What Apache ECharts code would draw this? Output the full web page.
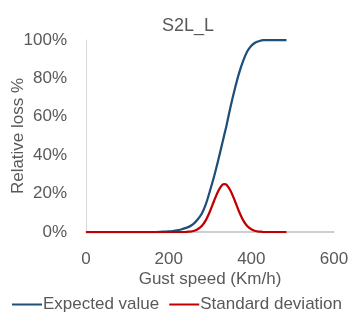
<!DOCTYPE html>
<html>
<head>
<meta charset="utf-8">
<script src="https://cdn.jsdelivr.net/npm/echarts@6/dist/echarts.min.js"></script>
<style>
html,body{margin:0;padding:0;background:#fff;}
#chart{width:354px;height:328px;}
</style>
</head>
<body>
<div id="chart"></div>
<script>
var titleText = 'S2L_L';
var xTicks = [0, 200, 400, 600];
var gustSpeed = [0,10,20,30,40,50,60,70,80,90,100,110,120,130,140,150,160,170,180,190,200,210,220,230,240,250,260,270,280,290,300,310,320,330,335,340,350,360,370,380,390,400,410,420,430,440,450,460,470,480,485];
var expectedValue = [0,0,0,0,0,0,0,0,0,0,0,0,0,0,0,0,0,0,0.001,0.002,0.003,0.005,0.008,0.013,0.02,0.028,0.042,0.065,0.095,0.145,0.215,0.29,0.375,0.465,0.51,0.555,0.655,0.745,0.825,0.89,0.94,0.97,0.987,0.995,0.999,1,1,1,1,1,1];
var standardDeviation = [0,0,0,0,0,0,0,0,0,0,0,0,0,0,0,0,0,0,0,0,0,0,0,0,0,0.002,0.005,0.014,0.031,0.062,0.108,0.163,0.214,0.246,0.25,0.246,0.214,0.163,0.108,0.062,0.031,0.014,0.005,0.002,0,0,0,0,0,0,0];
var seriesNames = ['Expected value', 'Standard deviation'];

function pairs(xs, ys){ return xs.map(function(x,i){ return [x, ys[i]]; }); }

var font = 'Liberation Sans';
var txt = '#595959';
var chart = echarts.init(document.getElementById('chart'));
chart.setOption({
  animation: false,
  title: { text: titleText, left: 183, top: 12, textAlign: 'center',
    textStyle: { fontFamily: font, fontSize: 18, fontWeight: 'normal', color: txt } },
  grid: { left: 86, right: 20, top: 40, bottom: 96, containLabel: false, outerBoundsMode: 'none' },
  legend: {
    data: seriesNames, bottom: 10, left: 'center', itemWidth: 30, itemHeight: 2, itemGap: 10,
    icon: 'rect',
    textStyle: { fontFamily: font, fontSize: 17, color: txt, padding: [0,0,0,-4] }
  },
  xAxis: {
    type: 'value', min: 0, max: 600, interval: 200,
    name: 'Gust speed (Km/h)', nameLocation: 'middle', nameGap: 39, nameMoveOverlap: false,
    nameTextStyle: { fontFamily: font, fontSize: 17, color: txt },
    axisLine: { show: true, lineStyle: { color: '#bfbfbf', width: 1.5 } },
    axisTick: { show: false },
    splitLine: { show: false },
    axisLabel: { margin: 19, fontFamily: font, fontSize: 17, color: txt,
      formatter: function(v){ return xTicks.indexOf(v) >= 0 ? String(v) : ''; } }
  },
  yAxis: {
    type: 'value', min: 0, max: 1, interval: 0.2,
    name: 'Relative loss %', nameLocation: 'middle', nameGap: 59, nameMoveOverlap: false,
    nameTextStyle: { fontFamily: font, fontSize: 17, color: txt },
    axisLine: { show: true, lineStyle: { color: '#d9d9d9', width: 1 } },
    axisTick: { show: false },
    splitLine: { show: false },
    axisLabel: { margin: 19, fontFamily: font, fontSize: 17, color: txt,
      formatter: function(v){ return Math.round(v*100) + '%'; } }
  },
  series: [
    { name: seriesNames[0], type: 'line', data: pairs(gustSpeed, expectedValue), smooth: 0.3,
      showSymbol: false, color: '#1F4E79', lineStyle: { color: '#1F4E79', width: 2.25 } },
    { name: seriesNames[1], type: 'line', data: pairs(gustSpeed, standardDeviation), smooth: 0.3,
      showSymbol: false, color: '#C00000', lineStyle: { color: '#C00000', width: 2.25 } }
  ]
});
</script>
</body>
</html>
